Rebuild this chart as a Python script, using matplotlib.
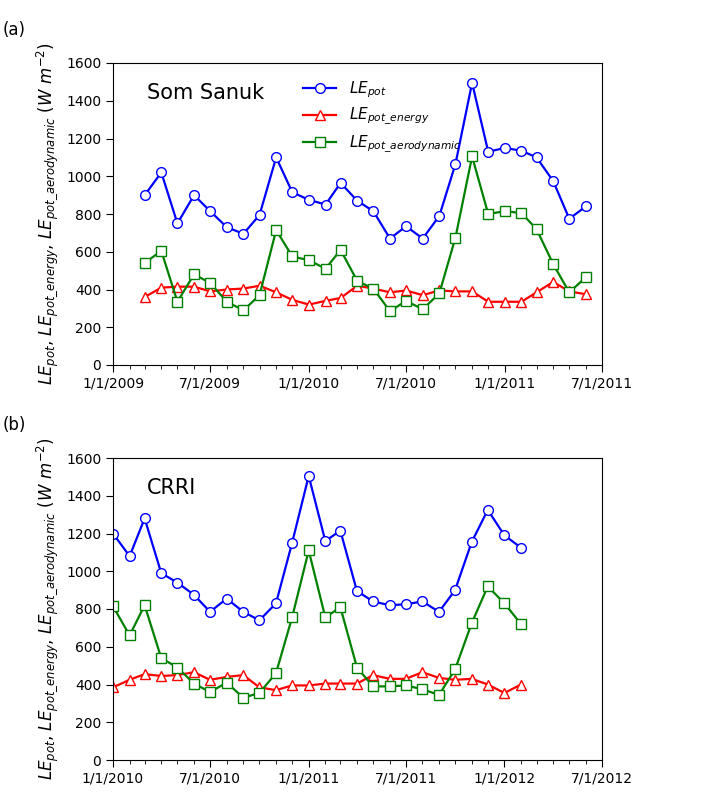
import matplotlib
matplotlib.use("Agg")
import matplotlib.pyplot as plt
import matplotlib.dates as mdates
import numpy as np
import pandas as pd

# Som Sanuk, monthly from 3/1/2009
dates_a = pd.date_range("2009-03-01", periods=28, freq="MS")
pot_a = [900, 1020, 750, 900, 815, 730, 695, 795, 1100, 915, 875, 850, 965, 870,
         815, 670, 735, 670, 790, 1065, 1495, 1130, 1150, 1135, 1100, 975, 775, 840]
energy_a = [360, 410, 415, 415, 390, 400, 405, 420, 385, 345, 320, 340, 355, 420,
            405, 385, 395, 370, 395, 390, 390, 335, 335, 335, 385, 440, 390, 375]
aero_a = [540, 605, 335, 480, 435, 335, 290, 370, 715, 575, 555, 510, 610, 445,
          405, 285, 340, 295, 380, 675, 1105, 800, 815, 805, 720, 535, 385, 465]

# CRRI, monthly from 1/1/2010
dates_b = pd.date_range("2010-01-01", periods=26, freq="MS")
pot_b = [1200, 1080, 1280, 990, 940, 875, 785, 855, 785, 740, 830, 1150, 1505,
         1160, 1215, 895, 840, 820, 825, 840, 785, 900, 1155, 1325, 1190, 1125]
energy_b = [385, 425, 455, 445, 450, 465, 425, 440, 450, 385, 370, 395, 395,
            405, 405, 405, 450, 430, 430, 465, 435, 425, 430, 400, 355, 400]
aero_b = [815, 660, 820, 540, 490, 405, 360, 410, 330, 355, 460, 755, 1110,
          755, 810, 490, 390, 390, 395, 375, 345, 480, 725, 920, 830, 720]

fig = plt.figure(figsize=(7.15, 7.92), dpi=100)
ax1 = fig.add_axes([113/715, 1-365/792, 489/715, 302/792])
ax2 = fig.add_axes([113/715, 1-760/792, 489/715, 302/792])

ylab = (r"$LE_{pot}$, $LE_{pot\_energy}$, $LE_{pot\_aerodynamic}$ $(W\ m^{-2})$")

def panel(ax, d, pot, en, aero, start, end, site, letter):
    ax.plot(d, pot, "-o", color="blue", mfc="white", mec="blue", ms=7, lw=1.6,
            label=r"$LE_{pot}$")
    ax.plot(d, en, "-^", color="red", mfc="white", mec="red", ms=7, lw=1.6,
            label=r"$LE_{pot\_energy}$")
    ax.plot(d, aero, "-s", color="green", mfc="white", mec="green", ms=7, lw=1.6,
            label=r"$LE_{pot\_aerodynamic}$")
    ax.set_xlim(pd.Timestamp(start), pd.Timestamp(end))
    ax.set_ylim(0, 1600)
    ax.set_yticks(np.arange(0, 1601, 200))
    ax.xaxis.set_major_locator(mdates.MonthLocator(bymonth=[1, 7]))
    ax.xaxis.set_minor_locator(mdates.MonthLocator())
    ax.xaxis.set_major_formatter(
        matplotlib.ticker.FuncFormatter(
            lambda v, p: "%d/1/%d" % (mdates.num2date(v).month, mdates.num2date(v).year)))
    ax.tick_params(labelsize=10, direction="out", length=5)
    ax.tick_params(which="minor", length=3)
    ax.set_ylabel(ylab, fontsize=12)
    ax.text(0.07, 0.9, site, transform=ax.transAxes, fontsize=15, va="center")
    fig.text(3/715, ax.get_position().y1 + 0.035, letter, fontsize=12)

panel(ax1, dates_a, pot_a, energy_a, aero_a, "2009-01-01", "2011-07-01", "Som Sanuk", "(a)")
panel(ax2, dates_b, pot_b, energy_b, aero_b, "2010-01-01", "2012-07-01", "CRRI", "(b)")
ax1.legend(loc="upper left", bbox_to_anchor=(0.36, 0.99), frameon=False, fontsize=11,
           handlelength=2.2, labelspacing=0.4)

fig.savefig("out.png", dpi=100)
